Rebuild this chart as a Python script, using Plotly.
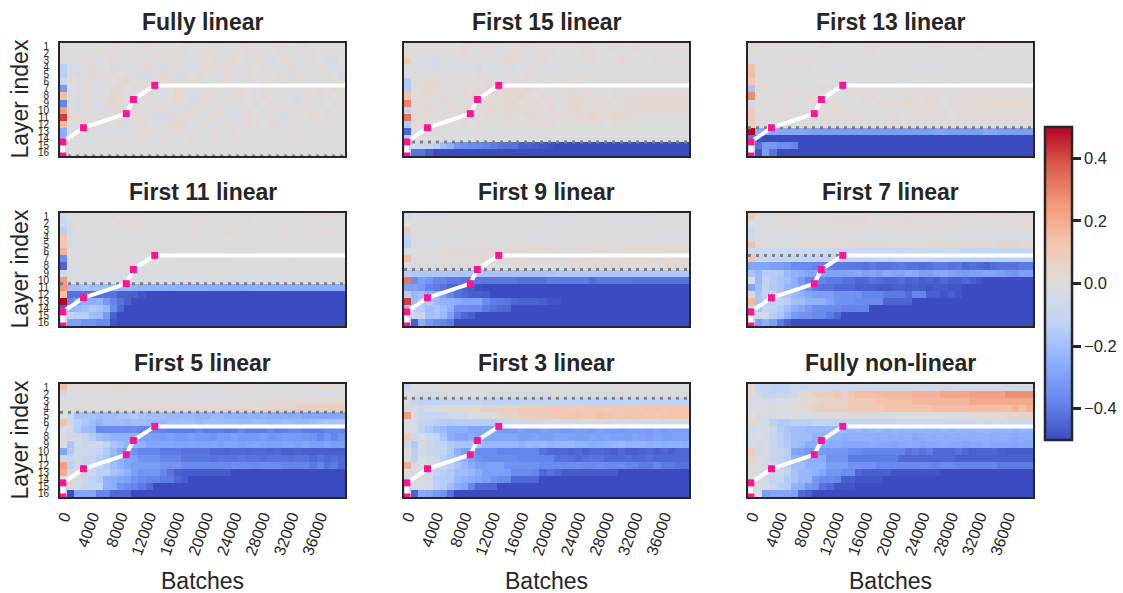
import plotly.graph_objects as go


def R(*items):
    """One heatmap row in hundredths: plain values or (value, count) runs, last value held to col 40."""
    out = []
    for it in items:
        if isinstance(it, tuple):
            out += [it[0]] * it[1]
        else:
            out.append(it)
    out += [out[-1]] * (40 - len(out))
    return [v / 100 for v in out[:40]]


titles = ["Fully linear", "First 15 linear", "First 13 linear",
          "First 11 linear", "First 9 linear", "First 7 linear",
          "First 5 linear", "First 3 linear", "Fully non-linear"]
layer_labels = [str(i) for i in range(1, 17)]
batch_ticks = [0, 4000, 8000, 12000, 16000, 20000, 24000, 28000, 32000, 36000]
cbar_ticks = [-0.4, -0.2, 0.0, 0.2, 0.4]
cbar_text = ["\u22120.4", "\u22120.2", "0.0", "0.2", "0.4"]
knot_x = [0.4, 0.4, 3.3, 9.3, 10.3, 13.3]
knot_y = [16, 14, 12, 10, 8, 6]
line_end_x = 40
linear_boundary = [16, 14, 12, 10, 8, 6, 4, 2, None]

fully_linear = [
    R(0,1,0,-1,1,0,0,2,1,-1,0,2,3,0,1,-1,0,2,1,-1,0,2,-2,1,0,3,1,-1,0,1,2,-1,0,1,2,0,-1,1,0,1),
    R(0,0,1,-1,0,1,2,-1,0,1,3,0,-1,2,1,0,2,-1,0,1,3,1,0,-2,1,0,2,1,-1,0,2,1,0,-2,1,2,0,1,-1,0),
    R(1,-2,0,3,1,-3,0,2,-1,-2,3,1,0,-1,2,3,1,0,-2,1,0,2,-1,1,3,0,-2,1,2,-3,0,3,1,-2,-1,1,0,-3,-3,0),
    R(-14,-2,-3,1,2,-1,0,-3,2,-1,0,1,2,-2,-3,1,0,-2,-3,-1,2,1,0,3,-1,-2,1,0,2,-1,-2,0,3,1,-2,0,1,-2,-3,-2),
    R(-14,-1,-4,0,4,2,-2,3,0,-1,-3,-4,-4,2,4,1,-4,-3,0,3,1,0,-2,2,0,-1,3,1,-2,0,2,-1,-3,1,-2,0,-1,2,0,-4),
    R(-9,0,-1,2,1,-2,1,0,3,4,-1,1,0,-2,1,2,0,-1,3,2,0,-1,1,2,0,-2,1,0,3,1,-1,0,2,1,-2,0,-1,0,1,2),
    R(-32,0,-3,1,-1,-4,0,2,3,0,-2,1,2,1,-1,0,3,2,-2,0,1,3,0,-1,1,2,0,-2,3,1,0,-1,2,0,1,-1,2,1,4,2),
    R(15,-1,-3,2,-2,0,1,4,3,-1,0,1,2,-1,-2,0,3,1,-3,-1,2,1,0,-2,1,3,0,-1,2,1,0,-1,-2,-4,1,0,2,-1,0,1),
    R(-38,-2,-4,1,-1,-3,2,4,1,0,-2,1,-1,0,3,1,2,-1,-4,2,1,-2,3,0,-1,2,1,-3,0,2,-1,1,0,-4,2,1,-1,0,2,1),
    R(24,-1,-3,0,1,-2,-3,2,3,-1,1,0,-2,2,1,0,-1,-3,2,1,-1,0,3,-2,-3,1,2,0,-1,1,2,-1,0,1,3,-1,0,2,1,0),
    R(42,1,3,2,-1,1,3,0,1,-2,2,3,-3,-4,-4,-4,1,3,1,-3,1,3,-1,0,-3,-2,2,1,0,-1,-3,-4,2,1,0,3,-1,2,1,0),
    R(16,0,-2,1,2,-1,0,1,2,-3,1,2,0,-1,1,3,3,2,-2,0,1,-3,0,2,1,-1,3,1,0,2,3,-1,1,2,-2,0,1,-1,0,1),
    R(-26,-1,-2,-3,1,-3,-3,-3,-1,-2,0,1,2,-1,0,1,2,-1,1,0,-2,1,0,-1,2,0,1,-1,0,1,-2,0,1,0,-1,1,0,-1,1,0),
    R(-25,0,-2,-1,-3,-1,0,1,-2,0,-1,1,0,-1,1,0,-2,0,1,-1,0,1,0,-1,1,0,-1,0,1,0,-1,0,1,-1,0,0,1,-1,0,0),
    R(-3,0,0,-1,0,1,0,-1,0,0,1,0,-1,0,1,-2,-1,0,1,0,(0,20)),
    R(-5,(0,39)),
]

first_15 = [
    R(1,(1,6),0,2,1,-1,2,3,1,-1,0,3,2,(1,6),-1,2,1,0,1,2,1,0,2,1),
    R(1,(-1,5),0,1,2,0,-2,1,-1,0,1,3,1,0,-2,1,2,0,1,-1,0,2,1,(0,9)),
    R(12,-2,-2,-3,-3,0,-1,-2,1,3,2,-1,0,1,3,3,1,-1,1,2,0,1,-1,0,2,1,3,0,1,-1,4,1,0,1,0,2),
    R(-3,-2,-3,-3,-4,-2,-1,-3,-2,-3,-4,0,-2,-3,-1,-3,0,-1,1,0,-1,-2,1,0,-1,-2,0,-1,0,1,0,-1,0),
    R(0,-1,-2,0,1,-1,-2,0,1,0,2,-1,-2,0,1,-1,0,1,-1,-2,1,0,-2,-1,0,1,-1,0,1,0,-2),
    R(-16,0,1,3,2,0,1,2,-1,1,0,2,1,-1,0,1,0,2,1,-1,1,0,-1,1,2,0,-1,1,0,1),
    R(-16,1,3,4,2,1,0,1,3,0,1,2,0,-1,1,2,3,4,2,0,1,-1,0,2,1,3,0,1,-1,2,0,1),
    R(14,0,2,1,0,2,1,-1,2,3,1,0,2,1,4,3,5,1,0,2,1,-1,0,2,1,3,2,1,0,2),
    R(30,2,1,3,0,2,3,1,0,-1,1,2,3,1,4,2,0,1,3,1,2,0,1,3,4,2,1,3,2,0,1,2,3),
    R(-10,0,2,3,1,0,2,1,3,0,1,3,2,0,4,3,4,2,1,0,2,1,0,3,4,1,3,1,2,3,1,2),
    R(33,1,3,1,0,2,1,3,2,1,0,2,1,-1,2,1,0,3,2,1,0,2,3,1,4,2,5,3,1,4,3,2,1,0),
    R(-16,1,2,0,-1,1,2,0,1,0,2,1,0,1,(1,6),2,0,1,(0,4),1,0,2,1,0,1,0),
    R(-45,0,-1,0,1,-1,1,0,-1,0,1,0,(0,28)),
    R(-15,(0,39)),
    R(-5,-5,-8,-8,-14,-20,-24,-33,-34,-36,-37,-38,-40,-42,-42,-42,-46,-46,-47,-48,-49,-50),
    R(-5,-42,-42,-46,(-50,36)),
]

first_13 = [
    R(3,(1,6),0,1,0,2,1,(0,4),1,2,(1,6),0,1,2,(1,5),2,(1,8)),
    R(0,-1,-1,0,-1,(0,6),-1,(0,5),1,(0,12),-1,(0,6)),
    R(-3,-1,0,1,0,(1,6),-1,0,1,0,-2,(0,6),1,(0,5),-1,(0,6)),
    R(14,-2,-1,-2,(-1,5),0,-2,-1,(-2,3),0,-1,1,(0,5),-1,(-2,4),(0,5)),
    R(15,-1,-2,-1,-3,-1,0,-1,-2,(0,6),-2,-1,0,1,(0,6),-1,(0,6)),
    R(12,-1,-1,0,1,-2,(0,6),-2,-1,(0,7),-2,-1,(0,5),1,(0,3)),
    R(-18,1,2,1,0,1,(0,4),2,1,0,-1,1,2,(1,3),(0,5),2,1,0,1,(0,4)),
    R(28,0,1,-1,1,2,1,0,2,1,(0,3),-2,1,0,2,1,(0,4),3,1,0,2,1,0,1),
    R(-5,(1,4),2,(0,3),3,1,2,1,(0,3),-1,0,2,(1,3),4,2,1,(3,2),0,2,1,2,1,3),
    R(10,1,-1,2,1,0,2,1,(0,4),2,1,0,1,-1,(0,6),1,2,0,1,-1,0,1),
    R(10,0,1,0,1,2,(0,4),1,3,1,0,2,1,(0,3),1,2,0,1,2,(1,4),0,2,1,2),
    R(8,(0,39)),
    R(50,-26,-26,-27,-27,-28,-28,-28,-29,-30,(-30,6),(-31,6),(-30,4),-29,-28,(-30,5),-27,-28,-30),
    R(-40,-48,(-50,38)),
    R(-5,-42,-32,-32,-36,-36,-38,(-50,33)),
    R(-5,-48,-30,-42,(-50,36)),
]

first_11 = [
    R(-8,(0,6),1,(0,6),-1,(1,3),(0,8),1,(0,5),-1,0,1),
    R(-8,-3,0,1,(0,4),2,(1,3),0,-1,(0,4),1,2,(0,6),1,(0,8)),
    R(-14,-3,-1,1,0,-1,(0,6),1,1,0,(1,4),(0,4),3,1,(0,5),-1,2,0,1),
    R(12,-2,-2,0,-1,(0,6),-1,(0,6),1,1,0,-1,(0,6),-2,0,-1,0,0),
    R(12,-3,-2,-1,(0,8),-1,(0,4),-2,(0,4),-1,(0,6),-1,-2,(0,3)),
    R(18,-2,-3,-3,-2,(0,6),-1,0,-1,(-1,3),(0,6),(-1,5),(0,6)),
    R(-35,-1,0,1,(0,5),-1,(0,7),1,(0,4),2,1,(0,8),1,(0,2)),
    R(-45,-1,-2,(0,4),1,1,(-1,3),(0,6),1,(-1,3),(0,8),-1,(0,2)),
    R(-5,-2,-2,(-1,5),-3,-2,(-1,4),-2,-2,(0,4),-1,(0,4),-2,-3,-2,-1,-2,(0,4)),
    R(25,-2,(-3,3),-1,-2,-1,(-2,3),-3,-4,(-3,4),-2,-1,(-2,4),-3,-4,-4,(-3,4),-2,-1),
    R(25,-20,-20,-18,-20,-20,-21,-21,-22,-22,-23,(-24,5),(-25,5),(-26,5),(-25,5),(-26,8)),
    R(14,-42,-42,-42,-42,-43,-42,-42,-46,-46,-46,-48,(-50,28)),
    R(50,-38,-30,-25,-26,-24,-32,-38,-42,-46,(-50,30)),
    R(-45,-25,-22,-20,-16,-18,-22,-36,-44,(-50,31)),
    R(-5,-12,-15,-15,-20,-22,-32,-46,(-50,32)),
    R(-5,-30,-30,-34,-34,-36,-36,-48,(-50,32)),
]

first_9 = [
    R(-7,(-2,6),-1,(-1,8),(-2,6),-1,(-1,6),(-2,6),-1),
    R(0,-1,(0,5),1,(0,4),-2,-1,(-1,6),(-2,4),(-1,4),(-2,6),(-1,3)),
    R(10,(-1,6),0,-1,(0,6),-1,(0,6),-1,-2,(-1,5),(0,3),-1,(0,3)),
    R(-12,(-1,5),-2,(0,8),-1,(-2,6),(-1,4),-2,(-1,5),(-2,3)),
    R(-14,(-2,4),(0,5),1,(0,6),(-1,6),(1,4),(0,5),(1,4)),
    R(-2,-1,(0,3),1,(2,8),(3,6),2,(1,5),(3,5),(2,5),(3,4)),
    R(15,(0,4),1,(2,9),3,(2,5),(1,4),(3,5),(4,4),(3,6)),
    R(-3,-3,-2,-2,(-1,6),(0,6),1,(0,6),(1,8),(0,5),(1,4)),
    R(-15,(-17,10),(-18,10),(-16,5),(-17,14)),
    R(32,-36,-30,-33,-38,-38,-40,-40,(-41,8),(-42,4),(-40,6),(-43,1),(-41,5),(-42,5)),
    R(-30,-30,-32,-38,-40,-42,-45,-45,-45,-47,-49,(-50,29)),
    R(-15,-22,-20,-25,-25,-32,-38,-42,-44,-46,-46,-47,(-50,28)),
    R(42,-22,-18,-16,-22,-24,-24,-26,-28,-28,-28,-36,-40,-40,-42,-44,-45,-45,-45,-46,-48,-48,(-50,18)),
    R(-20,-15,-15,-20,-18,-20,-25,-35,-35,-36,-36,-40,-42,-44,-44,(-50,25)),
    R(-5,-10,-10,-20,-18,-22,-30,-40,-44,-46,(-50,30)),
    R(-5,-46,-26,-32,-36,-38,-40,(-50,33)),
]

first_7 = [
    R(10,(-1,3),(1,8),(2,5),(0,4),1,(2,6),(1,5),(2,4),(1,4)),
    R(-2,(-1,3),(1,4),(0,3),(2,6),1,(2,5),(1,6),(0,5),(1,6)),
    R(-8,(-2,5),-1,(0,5),(-1,8),(0,5),(1,3),(0,6),(-1,7)),
    R(-5,(-2,6),-1,-2,(-1,6),(-2,7),(-1,5),(-2,7),(-3,5)),
    R(14,(0,5),(1,8),(2,6),(1,5),(3,5),(2,5),(5,3),(3,2)),
    R(-6,-7,-8,-8,-8,(-9,6),(-8,10),-9,(-8,8),(-10,8)),
    R(14,-9,-10,-10,-11,-12,(-12,6),(-13,8),(-12,8),(-14,11)),
    R(-28,-28,-28,-30,-30,-32,-36,-36,-36,-38,-38,-38,-40,-40,-40,-41,-42,-40,-42,-42,-41,-40,-42,-42,-43,-42,-40,-40,-42,-41,-44,-42,-44,-45,-43,-42,-42,-42,-40),
    R(-18,-22,-15,-15,-16,-22,-24,-26,-28,-28,-28,-29,-29,-29,-28,-27,-30,-28,-30,-27,-28,-29,-26,-27,-30,-30,-28,-27,-29,-30,-31,-30,-29,-28,-29,-30,-32,-33,-30),
    R(0,-22,-12,-15,-18,-20,-25,-32,-38,-38,-38,-40,-40,-42,-42,-44,-44,-42,-43,-44,-44,-43,-45,-44,-46,-45,-46,-44,-46,-46,-44,-46,-48,(-50,7)),
    R(-28,-20,-12,-16,-18,-24,-26,-30,-35,-40,-42,-42,-44,-44,-44,-46,-46,-46,-47,-47,-46,-46,-47,-46,-47,-48,-47,-47,-48,-48,(-50,10)),
    R(3,-18,-12,-12,-18,-18,-22,-24,-28,-30,-30,-30,-34,-34,-34,-34,-38,-38,-38,-40,-40,-40,-44,-38,-38,-46,-46,-48,-46,-48,(-50,11)),
    R(16,-18,-15,-14,-12,-15,-20,-20,-24,-24,-24,-28,-34,-34,-34,-36,-36,-36,-36,-45,-45,-45,-45,(-50,17)),
    R(-12,-18,-12,-12,-15,-20,-25,-28,-32,-36,-36,-36,-36,-38,-38,-38,-38,(-50,23)),
    R(-5,-5,-5,-15,-18,-24,-32,-34,-34,-36,-36,-40,-44,(-50,27)),
    R(-5,-30,-25,-30,-40,-46,(-50,34)),
]

first_5 = [
    R(14,(1,6),(3,3),(1,8),(0,5),(1,6),(0,6),(1,4),(0,3)),
    R(-6,(-1,5),(-2,6),(-1,7),(-2,5),(-1,8),(-2,8)),
    R(-1,(-1,6),(0,9),(-1,6),(1,7),(2,6),(3,5)),
    R(0,(1,9),(2,6),(3,6),(4,6),(5,5),(7,4),(8,3)),
    R(-1,-8,-18,-18,-18,-20,-20,-20,-18,-18,-16,-18,-20,-20,-20,-22,-22,-22,-22,-24,-24,-22,-22,-24,-24,-24,-24,-25,-24,-26,-26,-26,-27,-26,-28,-28,-28,-28,-28,-27),
    R(14,-6,-14,-17,-20,-24,-20,-20,-20,-22,-20,-20,-22,-22,-22,-20,-21,-20,-20,-22,-20,-20,-21,-22,-21,-22,-22,-20,-21,-22,-22,-20,-21,-22,-22,-20,-19,-18,-18,-18),
    R(-3,-5,-15,-20,-22,-36,-36,-36,-36,-36,-36,-38,-38,-38,-38,-40,-40,-40,-40,-38,-40,-40,-40,-41,-40,-38,-40,-40,-40,-38,-40,-40,-38,-38,-40,-40,-40,-38,-38),
    R(0,-5,-5,-10,-15,-20,-22,-24,-24,-24,-24,-30,-30,-30,-32,-30,-32,-32,-30,-32,-32,-33,-31,-32,-30,-32,-32,-32,-30,-33,-32,-31,-32,-32,-33,-34,-38,-34,-38,-34),
    R(0,-18,-4,-8,-6,-6,-12,-18,-20,-24,-24,-24,-28,-28,-28,-28,-29,-29,-28,-29,-29,-28,-30,-28,-29,-30,-29,-28,-29,-30,-30,-29,-29,-30,-28,-30,-30,-28,-30,-30),
    R(-28,-16,-5,-8,-8,-12,-16,-22,-28,-34,-34,-38,-38,-38,-40,-40,-40,-42,-42,-42,-42,-44,-44,-45,-44,-44,-45,-44,-44,-45,-44,-46,-46,-45,-46,-46,-46,-46,-46,-46),
    R(-8,-10,-5,-10,-10,-15,-18,-24,-26,-28,-30,-34,-34,-34,-38,-38,-38,-41,-41,-41,-41,-42,-41,-42,-42,-41,-42,-42,-43,-42,-42,-42,-43,-42,-42,-44,-42,-44,-43,-44),
    R(24,-14,-6,-10,-10,-12,-15,-20,-24,-28,-30,-31,-31,-31,-33,-33,-33,-36,-36,-36,-36,-36,-36,-36,-35,-36,-36,-37,-36,-36,-36,-38,-38,-38,-38,-40,-38,-42,-40,-44),
    R(20,-5,-4,-8,-8,-14,-14,-18,-20,-24,-30,-33,-33,-33,-38,-42,-46,-47,-47,-47,-47,-47,-47,-47,(-50,16)),
    R(0,3,-3,-8,-12,-15,-24,-26,-28,-30,-34,-36,-38,-38,-40,-40,-44,-46,(-50,22)),
    R(-5,5,-5,-10,-10,-10,-24,-26,-34,-36,-38,-40,-44,(-50,27)),
    R(-5,-50,-28,-28,-28,-38,-38,-44,-44,-44,(-50,30)),
]

first_3 = [
    R(-10,(-1,4),(1,6),(0,8),(-1,5),(0,6),(1,5),(0,5)),
    R(-2,(-3,5),(-2,8),(-3,6),(-1,6),(-2,6),(-1,8)),
    R(-1,-10,-12,-13,-12,(-11,6),(-13,6),(-12,8),(-13,6),(-12,7),-13),
    R(-5,-4,-6,-4,-2,0,2,2,2,3,4,6,6,7,8,8,9,9,9,10,10,11,10,10,11,11,12,10,11,12,12,11,12,12,13,13,12,13,13,13),
    R(24,-2,-8,-10,-10,-8,-5,-5,-5,-2,-2,0,0,5,5,5,8,8,8,8,8,11,11,12,13,11,12,14,13,12,11,13,12,13,12,11,13,13,12,13),
    R(-4,-3,-10,-12,-14,-15,-16,(-15,6),-8,-8,-6,-6,-5,-5,-4,-4,-3,-4,-3,-3,-2,-3,-3,-4,-3,-3,-4,-3,-4,-5,-4,-5),
    R(-2,-3,-12,-16,-20,-22,-26,-26,-26,-28,-28,-28,-28,-32,-32,-32,-30,-32,-32,-30,-31,-31,-32,-32,-30,-31,-32,-30,-31,-31,-32,-30,-30,-31,-32,-30,-31,-30,-30),
    R(12,-8,-4,-8,-12,-18,-26,-28,-28,-26,-28,-28,-28,-28,-28,-28,-30,-30,-29,-30,-30,-28,-29,-30,-30,-30,-29,-30,-29,-30,-30,-30,-29,-30,-31,-29,-30,-30,-30,-30),
    R(-8,-16,-3,-6,-12,-12,-16,-18,-18,-18,-18,-22,-22,-22,-22,-22,-24,-22,-23,-22,-24,-23,-22,-22,-24,-24,-26,-25,-24,-23,-22,-24,-24,-23,-25,-24,-25,-24,-24,-25),
    R(-1,-14,-3,-8,-10,-12,-16,-25,-30,-30,-36,-36,-36,-38,-38,-38,-38,-38,-38,-42,-44,-44,-44,-45,-44,-46,-44,-44,-45,-46,-44,-46,-46,-45,-44,-46,-44,-46,-44,-44),
    R(-3,-14,-3,-7,-8,-14,-18,-22,-26,-30,-34,-36,-36,-36,-36,-36,-38,-38,-38,-38,-38,-42,-42,-43,-44,-43,-42,-42,-44,-44,-44,-43,-44,-44,-43,-44,-44,-44,-44,-44),
    R(20,-4,-3,-5,-6,-10,-14,-18,-22,-26,-30,-30,-30,-30,-34,-34,-34,-34,-34,-36,-36,-36,-36,-36,-35,-36,-36,-35,-36,-36,-36,-38,-38,-40,-40,-38,-40,-40,-42,-42),
    R(0,-3,-3,-5,-12,-14,-16,-20,-20,-22,-26,-30,-30,-30,-30,-36,-36,-36,-38,-44,-42,-44,-47,-47,-47,-47,-47,-47,-47,-47,(-50,10)),
    R(-5,-2,-3,-5,-14,-15,-16,-22,-24,-26,-28,-30,-34,-36,-36,-44,-44,-44,-44,(-50,21)),
    R(-5,-2,-2,-4,-14,-15,-20,-26,-28,-38,-44,-44,-44,(-50,27)),
    R(-5,-45,-26,-28,-32,-34,-42,(-50,33)),
]

fully_nonlinear = [
    R(3,-10,-10,-13,-13,-12,-8,-8,-6,-7,-7,-7,-6,-6,-6,-5,-5,-5,-6,-5,-5,-4,-5,-5,-4,-5,-4,-4,-5,-4,-4,-4,-4,-3,-4,-3,-4,-3,-3,-3),
    R(3,-6,-10,-12,-10,-10,-6,2,2,8,8,8,12,6,12,15,15,15,15,16,16,16,16,18,18,18,18,22,22,22,22,23,23,23,23,23,27,27,27,27),
    R(-4,-3,-4,-5,-2,-3,-1,3,3,3,6,6,6,6,10,10,10,10,14,14,14,14,14,17,17,17,17,17,17,17,17,21,21,21,21,21,21,21,21,21),
    R(-1,-2,0,-2,0,-1,2,2,2,7,7,7,7,7,10,10,10,10,10,13,13,13,13,13,13,13,15,15,15,15,15,15,15,15,15,15,15,18,15,18),
    R(0,-4,-4,-4,-2,-2,-2,-2,-2,-2,(-1,11),(0,10),3,3,3,3,3,5,5,5,5),
    R(3,-3,-3,-14,-16,-16,-14,-14,-14,-12,-12,-12,-12,-12,-12,-12,-10,-10,-9,-10,-9,-9,-9,-9,-8,-9,-8,-8,-7,-8,-7,-8,-7,-8,-7,-8,-7,-8,-8,-8),
    R(-6,-3,-3,-8,-15,-18,-20,-20,-22,-22,-22,-22,-22,-22,-23,-22,-24,-23,-22,-24,-23,-24,-23,-24,-23,-24,-24,-23,-24,-23,-24,-24,-23,-23,-24,-24,-23,-24,-23,-24),
    R(-3,-2,-4,-10,-14,-17,-20,-20,-20,-24,-24,-24,-24,-25,-25,-25,-25,-25,-26,-26,-25,-26,-26,-27,-26,-25,-26,-26,-25,-26,-26,-26,-26,-25,-26,-26,-26,-27,-26,-26),
    R(-3,-5,-3,-8,-14,-16,-20,-22,-26,-26,-26,-26,-26,-27,-27,-27,-27,-26,-27,-27,-28,-27,-26,-27,-28,-27,-27,-26,-27,-27,-28,-27,-27,-26,-27,-27,-27,-28,-27,-27),
    R(8,-5,-3,-8,-10,-14,-28,-30,-32,-32,-32,-33,-33,-33,-36,-36,-38,-38,-38,-38,-38,-38,-42,-40,-42,-40,-44,-44,-44,-42,-44,-46,-44,-44,-44,-46,-47,-47,-47,-47),
    R(6,-3,-5,-10,-13,-15,-24,-24,-26,-26,-26,-34,-34,-34,-40,-40,-40,-40,-40,-40,-40,-44,-44,-44,-44,-44,-44,-44,-44,-46,-46,-46,-46,-46,-46,-46,-46,-46,-46,-46),
    R(2,-3,-3,-5,-10,-14,-20,-20,-24,-24,-24,-30,-30,-30,-34,-34,-34,-34,-37,-37,-37,-37,-37,-37,-36,-37,-38,-37,-37,-38,-38,-38,-38,-38,-38,-40,-40,-40,-40,-40),
    R(0,-3,-5,-8,-8,-12,-18,-22,-22,-24,-28,-33,-33,-36,-36,-44,-46,-46,-46,-46,-48,-48,-48,-48,-48,-48,-48,(-50,13)),
    R(0,-3,-6,-12,-10,-16,-18,-22,-22,-32,-36,-36,-38,-46,-46,-48,-48,-48,-48,(-50,21)),
    R(-3,-1,-2,-8,-14,-15,-24,-26,-32,-34,-42,-44,-48,-48,-48,(-50,25)),
    R(0,-3,-30,-28,-28,-28,-30,-44,-46,(-50,31)),
]

panels = [fully_linear, first_15, first_13, first_11, first_9, first_7,
          first_5, first_3, fully_nonlinear]

coolwarm = [[0.0, "#3b4cc0"], [0.125, "#6687ed"], [0.25, "#8db0fe"], [0.375, "#c0d4f5"],
            [0.5, "#dddcdc"], [0.625, "#f4c6af"], [0.75, "#f49a7b"], [0.875, "#dc5d4a"],
            [1.0, "#b40426"]]

W, H = 1123, 593
col_left = [60, 404, 748]
col_w = 285
row_top = [43, 213, 384]
row_h = 113
ink = "#262626"
font = "Liberation Sans"

cells_x = [i + 0.5 for i in range(40)]
cells_y = [j + 0.5 for j in range(16)]

fig = go.Figure()
annotations = []
layout_axes = {}
for k, (title, z) in enumerate(zip(titles, panels)):
    r, c = divmod(k, 3)
    sfx = "" if k == 0 else str(k + 1)
    xa, ya = "x" + sfx, "y" + sfx
    x0 = col_left[c] / W
    x1 = (col_left[c] + col_w) / W
    y1 = 1 - row_top[r] / H
    y0 = 1 - (row_top[r] + row_h) / H

    fig.add_trace(go.Heatmap(x=cells_x, y=cells_y, z=z, coloraxis="coloraxis",
                             xaxis=xa, yaxis=ya, hoverinfo="skip"))
    if linear_boundary[k] is not None:
        fig.add_trace(go.Scatter(x=[0, line_end_x], y=[linear_boundary[k]] * 2, mode="lines",
                                 line=dict(color="#7f7f7f", width=3, dash="3px,5px"),
                                 xaxis=xa, yaxis=ya, showlegend=False, hoverinfo="skip"))
    fig.add_trace(go.Scatter(x=knot_x + [line_end_x], y=knot_y + [knot_y[-1]], mode="lines",
                             line=dict(color="white", width=4),
                             xaxis=xa, yaxis=ya, showlegend=False, hoverinfo="skip"))
    fig.add_trace(go.Scatter(x=knot_x, y=knot_y, mode="markers",
                             marker=dict(symbol="square", size=7, color="#ff1493"),
                             xaxis=xa, yaxis=ya, showlegend=False, hoverinfo="skip"))

    layout_axes["xaxis" + sfx] = dict(
        domain=[x0, x1], range=[0, 40], anchor=ya, showgrid=False, zeroline=False,
        showline=True, mirror=True, linecolor=ink, linewidth=2, ticks="",
        tickmode="array", tickvals=[b / 1000 + 0.5 for b in batch_ticks],
        ticktext=[str(b) for b in batch_ticks], tickangle=-70, ticklabelstandoff=2,
        automargin=False, showticklabels=(r == 2),
        tickfont=dict(family=font, size=16, color=ink))
    layout_axes["yaxis" + sfx] = dict(
        domain=[y0, y1], range=[16, 0], anchor=xa, showgrid=False, zeroline=False,
        showline=True, mirror=True, linecolor=ink, linewidth=2, ticks="",
        tickmode="array", tickvals=cells_y, ticktext=layer_labels,
        showticklabels=(c == 0), ticklabelstandoff=7, automargin=False,
        tickfont=dict(family=font, size=10, color=ink))

    annotations.append(dict(text=title, xref="paper", yref="paper", x=(x0 + x1) / 2, y=y1 + 6 / H,
                            xanchor="center", yanchor="bottom", showarrow=False,
                            font=dict(family=font, size=23, color=ink, weight=700)))
    if c == 0:
        annotations.append(dict(text="Layer index", xref="paper", yref="paper", x=19 / W,
                                y=(y0 + y1) / 2, textangle=-90, xanchor="center", yanchor="middle",
                                showarrow=False, font=dict(family=font, size=23, color=ink)))
    if r == 2:
        annotations.append(dict(text="Batches", xref="paper", yref="paper", x=(x0 + x1) / 2,
                                y=1 - 581 / H, xanchor="center", yanchor="middle",
                                showarrow=False, font=dict(family=font, size=23, color=ink)))

fig.update_layout(
    width=W, height=H, margin=dict(l=0, r=0, t=0, b=0, autoexpand=False), autosize=False,
    paper_bgcolor="white", plot_bgcolor="white", showlegend=False,
    coloraxis=dict(
        cmin=-0.5, cmax=0.5, colorscale=coolwarm,
        colorbar=dict(x=1045 / W, xanchor="left", y=1 - 127 / H, yanchor="top",
                      thicknessmode="pixels", thickness=27, lenmode="pixels", len=313,
                      xpad=0, ypad=0, outlinewidth=2.5, outlinecolor=ink,
                      ticks="outside", ticklen=8, tickwidth=2.5, tickcolor=ink,
                      tickmode="array", tickvals=cbar_ticks, ticktext=cbar_text,
                      tickfont=dict(family=font, size=16.5, color=ink))),
    annotations=annotations, **layout_axes)

fig.write_html("out.html", config=dict(displayModeBar=False),
               post_script="document.body.style.margin='0';document.body.style.overflow='hidden';")
